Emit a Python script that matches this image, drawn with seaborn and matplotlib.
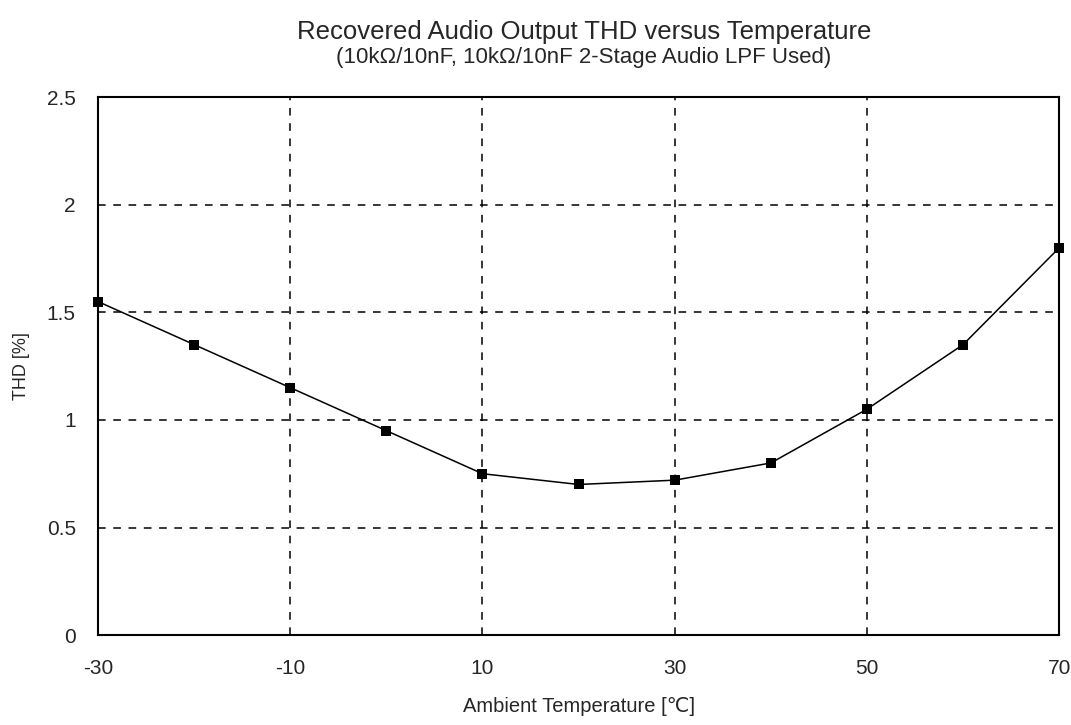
import matplotlib
matplotlib.use("Agg")
import matplotlib.pyplot as plt
import seaborn as sns
import pandas as pd

# ── Data ─────────────────────────────────────────────────────────────────────
temperature = [-30, -20, -10, 0, 10, 20, 30, 40, 50, 60, 70]
thd_pct = [1.55, 1.35, 1.15, 0.95, 0.75, 0.70, 0.72, 0.80, 1.05, 1.35, 1.80]

x_ticks = [-30, -10, 10, 30, 50, 70]
y_ticks = [0, 0.5, 1, 1.5, 2, 2.5]
y_tick_labels = ["0", "0.5", "1", "1.5", "2", "2.5"]

title = "Recovered Audio Output THD versus Temperature"
subtitle = "(10kΩ/10nF, 10kΩ/10nF 2-Stage Audio LPF Used)"

df = pd.DataFrame({"temp": temperature, "thd": thd_pct})

sns.set_style("white")
plt.rcParams["font.family"] = ["Liberation Sans", "DejaVu Sans"]

fig = plt.figure(figsize=(10.71, 7.25), dpi=100)
ax = fig.add_axes([0.0915, 0.124, 0.8975, 0.742])

sns.lineplot(data=df, x="temp", y="thd", ax=ax, color="black", lw=1.1,
             marker="s", markersize=6.5, markeredgewidth=0,
             markerfacecolor="black", clip_on=False, zorder=3)

ax.set_xlim(-30, 70)
ax.set_ylim(0, 2.5)
ax.set_xticks(x_ticks)
ax.set_xticklabels([str(t) for t in x_ticks], fontsize=15)
ax.set_yticks(y_ticks)
ax.set_yticklabels(y_tick_labels, fontsize=15)
ax.tick_params(axis="x", length=0, pad=17)
ax.tick_params(axis="y", length=0, pad=16)

ax.grid(True, color="black", linestyle=(0, (5, 5)), lw=1.1)
for s in ax.spines.values():
    s.set_visible(True)
    s.set_color("black")
    s.set_linewidth(1.5)

ax.set_xlabel("Ambient Temperature [℃]", fontsize=14.5, labelpad=14)
ax.set_ylabel("THD [%]", fontsize=13, labelpad=12)

fig.text(0.545, 0.956, title, ha="center", va="center", fontsize=18.5)
fig.text(0.545, 0.921, subtitle, ha="center", va="center", fontsize=16)

fig.savefig("out.png", dpi=100)
